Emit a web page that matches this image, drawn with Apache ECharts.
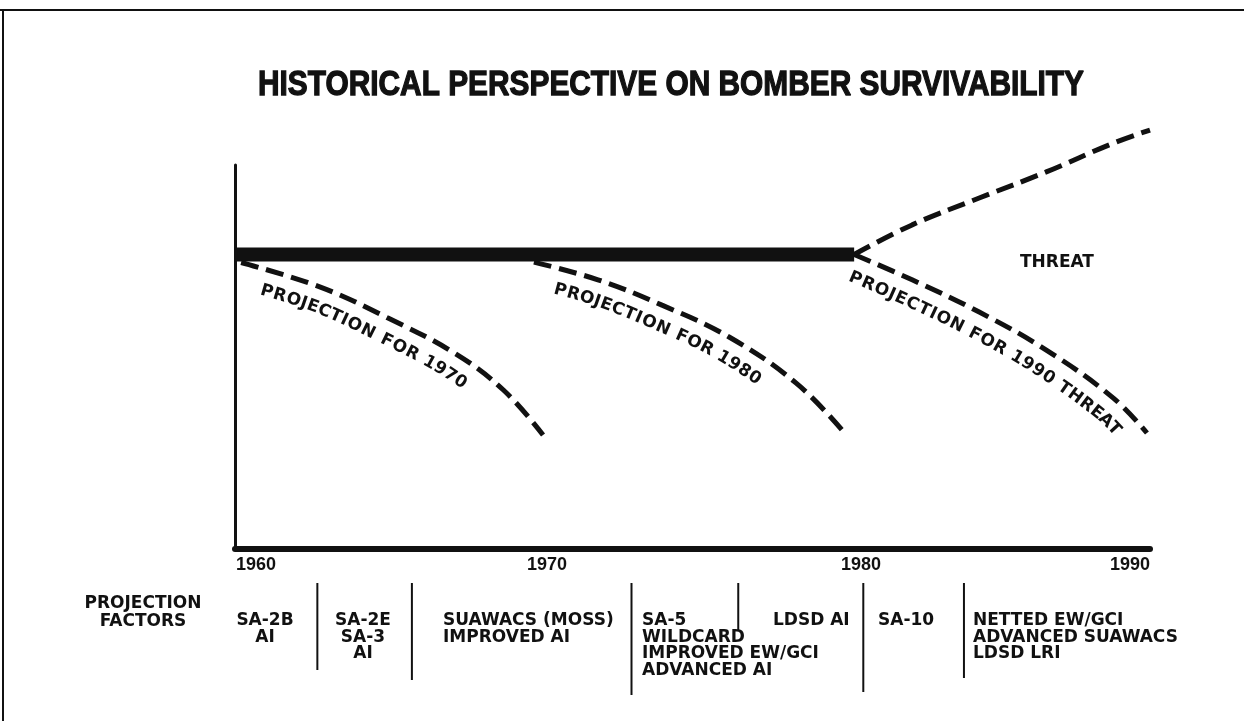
<!DOCTYPE html>
<html>
<head>
<meta charset="utf-8">
<title>Historical perspective on bomber survivability</title>
<script src="https://cdn.jsdelivr.net/npm/echarts@6/dist/echarts.min.js"></script>
<style>
  html, body { margin: 0; padding: 0; background: #fff; }
  #chart { width: 1244px; height: 721px; }
</style>
</head>
<body>
<div id="chart"></div>
<script>
// x = year, y = survivability level (arbitrary 0-100 scale)
const yearTicks = [1960, 1970, 1980, 1990];

const bomberLevel = [[1960, 76.7], [1980.3, 76.7]];
const projection1970 = [[1960.2, 74.6], [1962.8, 68.2], [1965.0, 60.2], [1967.2, 51.0], [1968.8, 41.4], [1970.1, 29.7]];
const projection1980 = [[1969.8, 74.7], [1971.9, 70.1], [1974.0, 63.5], [1976.2, 55.2], [1978.4, 43.2], [1979.9, 31.0]];
const projection1990 = [[1980.3, 76.7], [1982.2, 70.1], [1984.4, 61.7], [1986.6, 51.8], [1988.8, 39.3], [1989.9, 30.2]];
const threatLine = [[1980.3, 76.7], [1982.2, 84.4], [1984.4, 91.4], [1986.6, 98.2], [1988.8, 105.7], [1990, 109.1]];

const chartTitle = 'HISTORICAL PERSPECTIVE ON BOMBER SURVIVABILITY';
const curveLabels = ['PROJECTION FOR 1970', 'PROJECTION FOR 1980', 'PROJECTION FOR 1990 THREAT'];
const threatLabel = 'THREAT';
const threatLabelAt = [1986.95, 74.7];

const factorTitle = ['PROJECTION', 'FACTORS'];
const factorGroups = [
  ['SA-2B', 'AI'],
  ['SA-2E', 'SA-3', 'AI'],
  ['SUAWACS (MOSS)', 'IMPROVED AI'],
  ['SA-5', 'WILDCARD', 'IMPROVED EW/GCI', 'ADVANCED AI'],
  ['LDSD AI'],
  ['SA-10'],
  ['NETTED EW/GCI', 'ADVANCED SUAWACS', 'LDSD LRI']
];
// years where the table's vertical rules sit
const factorDividers = [1962.7, 1965.8, 1973.0, 1976.5, 1980.6, 1983.9];

// layout of the factor table (pixels)
const groupX = [265, 363, 443, 642, 773, 878, 973];
const groupAlign = ['center', 'center', 'left', 'left', 'left', 'left', 'left'];
const dividerBottom = [670, 680, 695, 630, 692, 678];

const ink = '#111';
const labelFont = 'bold 17px "DejaVu Sans"';
const titleFont = 'bold 33px "Liberation Sans", Arial, sans-serif';
const chart = echarts.init(document.getElementById('chart'));

const tickFont = { fontFamily: 'Liberation Sans', fontWeight: 'bold', fontSize: 18, color: ink };
const dashed = { color: ink, width: 5, type: [18, 8], cap: 'butt' };

function curve(name, data, lineStyle) {
  return {
    name: name, type: 'line', data: data, smooth: 0.4, symbol: 'none',
    clip: false, lineStyle: lineStyle, z: 3
  };
}

chart.setOption({
  animation: false,
  backgroundColor: '#fff',
  grid: { left: 235, right: 94, top: 165, bottom: 172, outerBoundsMode: 'none' },
  xAxis: {
    type: 'value', min: 1960, max: 1990, interval: 10,
    axisLine: { show: true, lineStyle: { color: ink, width: 6 } },
    axisTick: { show: false },
    splitLine: { show: false },
    axisLabel: {
      margin: 7,
      showMinLabel: true, showMaxLabel: true,
      formatter: v => yearTicks.includes(v) ? '{y' + v + '|' + v + '}' : '',
      rich: {
        y1960: Object.assign({ padding: [0, 0, 0, 42] }, tickFont),
        y1970: Object.assign({ padding: [0, 0, 0, 14] }, tickFont),
        y1980: Object.assign({ padding: [0, 0, 0, 32] }, tickFont),
        y1990: Object.assign({ padding: [0, 40, 0, 0] }, tickFont)
      }
    }
  },
  yAxis: {
    type: 'value', min: 0, max: 100,
    axisLine: { show: true, lineStyle: { color: ink, width: 3 } },
    axisTick: { show: false },
    axisLabel: { show: false },
    splitLine: { show: false }
  },
  series: [
    curve('Projection for 1970', projection1970, dashed),
    curve('Projection for 1980', projection1980, dashed),
    curve('Projection for 1990 threat', projection1990, dashed),
    curve('Threat', threatLine, dashed),
    {
      name: 'Bomber', type: 'line', data: bomberLevel, symbol: 'none', z: 4,
      lineStyle: { color: ink, width: 14, cap: 'butt' }
    }
  ]
});

// ---- text that follows the projection curves ----
const measure = document.createElement('canvas').getContext('2d');

function spline(pts, steps) {
  const out = [];
  for (let i = 0; i < pts.length - 1; i++) {
    const p0 = pts[Math.max(i - 1, 0)], p1 = pts[i], p2 = pts[i + 1], p3 = pts[Math.min(i + 2, pts.length - 1)];
    for (let s = 0; s < steps; s++) {
      const t = s / steps, t2 = t * t, t3 = t2 * t;
      out.push([0, 1].map(k => 0.5 * (2 * p1[k] + (p2[k] - p0[k]) * t +
        (2 * p0[k] - 5 * p1[k] + 4 * p2[k] - p3[k]) * t2 +
        (3 * p1[k] - p0[k] - 3 * p2[k] + p3[k]) * t3)));
    }
  }
  out.push(pts[pts.length - 1]);
  return out;
}

function curvedLabel(data, text, start, offset, spacing) {
  measure.font = labelFont;
  const pts = spline(data.map(d => chart.convertToPixel({ gridIndex: 0 }, d)), 24);
  const cum = [0];
  for (let i = 1; i < pts.length; i++) {
    cum.push(cum[i - 1] + Math.hypot(pts[i][0] - pts[i - 1][0], pts[i][1] - pts[i - 1][1]));
  }
  function at(s) {
    let i = 1;
    while (i < pts.length - 1 && cum[i] < s) i++;
    const a = pts[i - 1], b = pts[i];
    const t = (s - cum[i - 1]) / ((cum[i] - cum[i - 1]) || 1);
    return { x: a[0] + (b[0] - a[0]) * t, y: a[1] + (b[1] - a[1]) * t, ang: Math.atan2(b[1] - a[1], b[0] - a[0]) };
  }
  const els = [];
  let s = start;
  for (const ch of text) {
    const w = measure.measureText(ch).width + spacing;
    const p = at(s + w / 2);
    els.push({
      type: 'text', silent: true, z: 5,
      x: p.x - Math.sin(p.ang) * offset,
      y: p.y + Math.cos(p.ang) * offset,
      rotation: -p.ang,
      style: { text: ch, font: labelFont, fill: ink, align: 'center', verticalAlign: 'middle' }
    });
    s += w;
  }
  return els;
}

const graphics = [];
// page frame
graphics.push({ type: 'rect', silent: true, shape: { x: 0, y: 9, width: 1244, height: 2 }, style: { fill: ink } });
graphics.push({ type: 'rect', silent: true, shape: { x: 2, y: 9, width: 2, height: 712 }, style: { fill: ink } });

// heavy condensed title: squeeze a bold face to the drawn width
measure.font = titleFont;
const titleScale = 826 / measure.measureText(chartTitle).width;
graphics.push({
  type: 'text', silent: true, x: 258, y: 85, scaleX: titleScale, scaleY: 1.08,
  style: {
    text: chartTitle, font: titleFont, fill: ink, stroke: ink, lineWidth: 1.2,
    align: 'left', verticalAlign: 'middle'
  }
});

graphics.push(...curvedLabel(projection1970, curveLabels[0], 26, 21, 1));
graphics.push(...curvedLabel(projection1980, curveLabels[1], 26, 21, 1));
graphics.push(...curvedLabel(projection1990, curveLabels[2], 4, 22, 1));

const tp = chart.convertToPixel({ gridIndex: 0 }, threatLabelAt);
graphics.push({
  type: 'text', silent: true, x: tp[0], y: tp[1],
  style: { text: threatLabel, font: labelFont, fill: ink, align: 'center', verticalAlign: 'middle' }
});

// factor table
graphics.push({
  type: 'text', silent: true, x: 143, y: 595,
  style: { text: factorTitle.join('\n'), font: labelFont, fill: ink, align: 'center', verticalAlign: 'top', lineHeight: 17.5 }
});
factorGroups.forEach((lines, i) => {
  graphics.push({
    type: 'text', silent: true, x: groupX[i], y: 612,
    style: { text: lines.join('\n'), font: labelFont, fill: ink, align: groupAlign[i], verticalAlign: 'top', lineHeight: 16.8 }
  });
});
factorDividers.forEach((yr, i) => {
  const x = chart.convertToPixel({ xAxisIndex: 0 }, yr);
  graphics.push({
    type: 'line', silent: true,
    shape: { x1: x, y1: 583, x2: x, y2: dividerBottom[i] },
    style: { stroke: ink, lineWidth: 2 }
  });
});

chart.setOption({ graphic: graphics });
</script>
</body>
</html>
